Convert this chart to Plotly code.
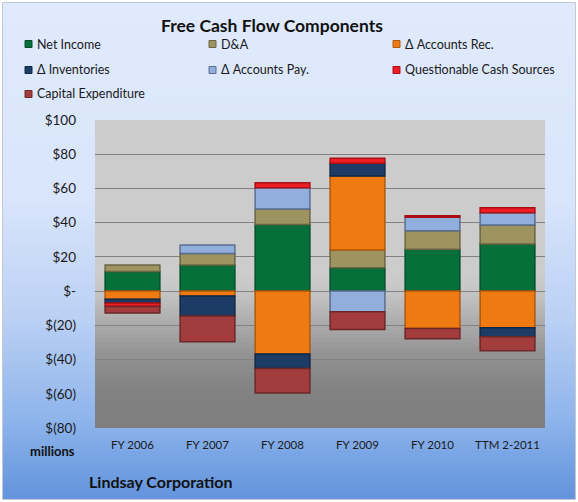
import plotly.graph_objects as go

# values, $ millions
categories = ["FY 2006", "FY 2007", "FY 2008", "FY 2009", "FY 2010", "TTM 2-2011"]
net_income = [11.5, 15.2, 39.0, 13.6, 24.4, 27.5]
d_and_a = [3.8, 6.8, 9.0, 10.4, 10.9, 11.1]
accounts_rec = [-4.7, -2.9, -36.8, 43.3, -21.8, -21.4]
inventories = [-2.3, -11.7, -8.4, 7.4, None, -5.3]
accounts_pay = [None, 4.9, 12.4, -12.1, 7.8, 7.2]
questionable = [-2.0, None, 2.9, 2.9, 0.9, 2.9]
capex = [-3.8, -15.0, -14.3, -10.3, -6.1, -8.2]

y_tickvals = [100, 80, 60, 40, 20, 0, -20, -40, -60, -80]
y_ticktext = ["$100", "$80", "$60", "$40", "$20", "$-", "$(20)", "$(40)", "$(60)", "$(80)"]
Y_MIN, Y_MAX = -80, 100

series = [
    ("Net Income", net_income, "#07703a", "#04502a"),
    ("D&A", d_and_a, "#9d9462", "#6b6543"),
    ("Δ Accounts Rec.", accounts_rec, "#f07a12", "#b0580c"),
    ("Δ Inventories", inventories, "#1c3c66", "#112745"),
    ("Δ Accounts Pay.", accounts_pay, "#92aedc", "#5a6e92"),
    ("Questionable Cash Sources", questionable, "#ee1c24", "#a81015"),
    ("Capital Expenditure", capex, "#a33d3d", "#6c2727"),
]

W, H = 578, 502
L, R, T, B = 95, 33, 120, 74
PW, PH = W - L - R, H - T - B
FONT = "Lato"


def px(x):
    return (x - L) / PW


def py(y):
    return 1 - (y - T) / PH


def lerp_color(stops, v):
    for (a, ca), (b, cb) in zip(stops, stops[1:]):
        if a <= v <= b:
            t = (v - a) / (b - a) if b != a else 0
            c = [round(ca[i] + (cb[i] - ca[i]) * t) for i in range(3)]
            return "rgb(%d,%d,%d)" % tuple(c)
    return "rgb(%d,%d,%d)" % tuple(stops[-1][1])


fig = go.Figure()

for name, vals, color, edge in series:
    fig.add_trace(go.Bar(
        x=categories, y=vals, name=name,
        marker=dict(color=color, line=dict(color=edge, width=1.5)),
        showlegend=False,
    ))

shapes = []

# outer chart background gradient (pixel rows, bands overlap to avoid seams)
bg_stops = [(0, (224, 234, 252)), (200, (216, 229, 251)), (320, (186, 208, 244)),
            (420, (142, 180, 235)), (502, (96, 146, 220))]
step = 4
for y0 in range(3, 499, step):
    shapes.append(dict(type="rect", xref="paper", yref="paper", layer="below",
                       x0=px(3), x1=px(575), y0=py(y0), y1=py(min(y0 + step + 2, 499)),
                       fillcolor=lerp_color(bg_stops, y0 + step / 2), line_width=0))
shapes.append(dict(type="rect", xref="paper", yref="paper", layer="below",
                   x0=px(2.5), x1=px(575.5), y0=py(2.5), y1=py(499.5),
                   line=dict(color="#c4c8d0", width=1)))

# plot-area gradient (in data units), drawn top-down so each band overlaps the next
pa_stops = [(-80, (127, 127, 127)), (-60, (129, 129, 129)), (-40, (143, 143, 143)),
            (-20, (170, 170, 170)), (0, (198, 198, 198)), (10, (204, 204, 204)),
            (100, (204, 204, 204))]
dv = 2.5
v = float(Y_MAX)
while v > Y_MIN:
    shapes.append(dict(type="rect", xref="x domain", yref="y", layer="below",
                       x0=0, x1=1, y0=max(v - dv * 1.6, Y_MIN), y1=v,
                       fillcolor=lerp_color(pa_stops, v - dv / 2), line_width=0))
    v -= dv

# manual legend
leg_cols = [35, 219, 403]
leg_rows = [44, 70, 94]
annotations = []
for i, (name, vals, color, edge) in enumerate(series):
    cx = leg_cols[i % 3]
    cy = leg_rows[i // 3]
    shapes.append(dict(type="rect", xref="paper", yref="paper",
                       x0=px(cx - 10), x1=px(cx - 3), y0=py(cy + 3.5), y1=py(cy - 3.5),
                       fillcolor=color, line=dict(color=edge, width=1)))
    annotations.append(dict(text=name, xref="paper", yref="paper", x=px(cx), y=py(cy),
                            xanchor="left", yanchor="middle", showarrow=False,
                            font=dict(family=FONT, size=12.5, color="#1a1a1a")))

annotations += [
    dict(text="<b>Free Cash Flow Components</b>", xref="paper", yref="paper",
         x=px(272), y=py(26), xanchor="center", yanchor="middle", showarrow=False,
         font=dict(family=FONT, size=17.5, color="#111111")),
    dict(text="<b>millions</b>", xref="paper", yref="paper",
         x=px(77), y=py(451), xanchor="right", yanchor="middle", showarrow=False,
         font=dict(family=FONT, size=13, color="#111111")),
    dict(text="<b>Lindsay Corporation</b>", xref="paper", yref="paper",
         x=px(87), y=py(481), xanchor="left", yanchor="middle", showarrow=False,
         font=dict(family=FONT, size=16, color="#111111")),
]

fig.update_layout(
    width=W, height=H,
    margin=dict(l=L, r=R, t=T, b=B, pad=0),
    paper_bgcolor="white",
    plot_bgcolor="rgba(0,0,0,0)",
    barmode="relative",
    bargap=0.27,
    shapes=shapes,
    annotations=annotations,
    showlegend=False,
    font=dict(family=FONT, color="#1a1a1a"),
)

fig.update_yaxes(
    range=[Y_MIN, Y_MAX], tickvals=y_tickvals, ticktext=y_ticktext,
    showgrid=True, gridcolor="#828282", gridwidth=1,
    zeroline=True, zerolinecolor="#828282", zerolinewidth=1,
    ticks="", ticklabelstandoff=18,
    tickfont=dict(family=FONT, size=13.5, color="#1a1a1a"),
)
fig.update_xaxes(
    showgrid=False, ticks="", showline=False,
    tickfont=dict(family=FONT, size=11.5, color="#1a1a1a"),
    ticklabelstandoff=8,
)

# drop the page's default body margin so the figure sits at the window origin
fig.write_html("out.html", config={"displayModeBar": False},
               post_script="document.body.style.margin='0';")
